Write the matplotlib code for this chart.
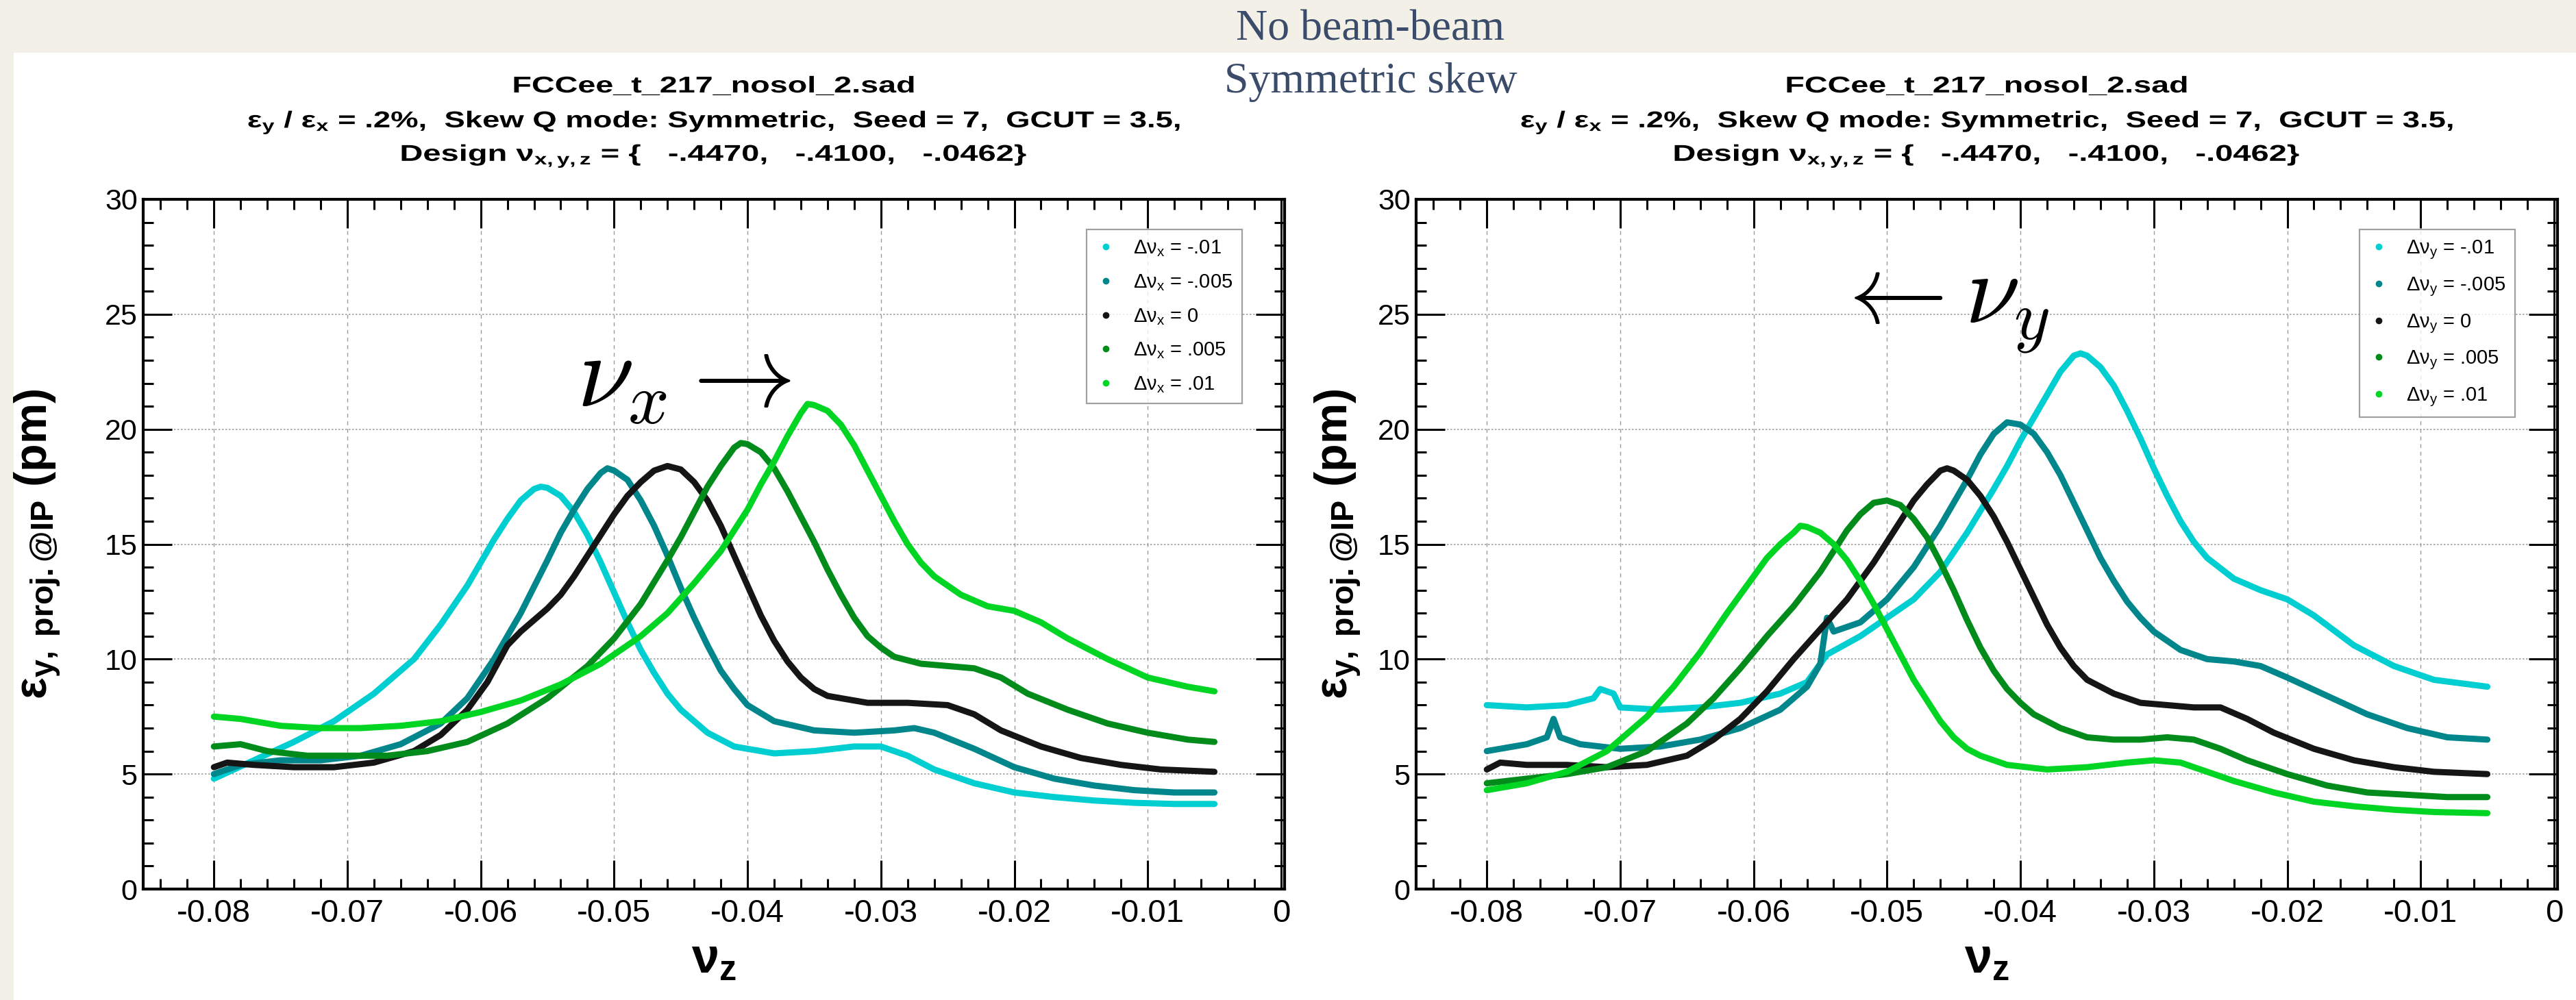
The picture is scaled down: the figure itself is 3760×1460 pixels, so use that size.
import matplotlib
matplotlib.use("Agg")
import matplotlib.pyplot as plt
from matplotlib.lines import Line2D
from matplotlib.patches import Rectangle, PathPatch
from matplotlib.textpath import TextPath
from matplotlib.font_manager import FontProperties
from matplotlib.transforms import Affine2D

plt.rcParams['font.family'] = ['Liberation Sans', 'DejaVu Sans']
plt.rcParams['mathtext.fontset'] = 'custom'
plt.rcParams['mathtext.rm'] = 'Liberation Sans'
plt.rcParams['mathtext.it'] = 'Liberation Sans'
plt.rcParams['mathtext.bf'] = 'Liberation Sans:bold'

# ---- data ----
xticks = [-0.08, -0.07, -0.06, -0.05, -0.04, -0.03, -0.02, -0.01, 0.0]
xtick_labels = ['-0.08', '-0.07', '-0.06', '-0.05', '-0.04', '-0.03', '-0.02', '-0.01', '0']
yticks = [0, 5, 10, 15, 20, 25, 30]

colors = ['#00CED1', '#00868B', '#151515', '#008B1A', '#00D523']
shifts = ['-.01', '-.005', '0', '.005', '.01']

# left panel: scan of nu_x
cyanL_x = [-0.080, -0.077, -0.074, -0.071, -0.068, -0.065, -0.063, -0.061, -0.059, -0.058, -0.057, -0.056,
           -0.0555, -0.055, -0.054, -0.053, -0.052, -0.051, -0.050, -0.049, -0.048, -0.047, -0.046, -0.045,
           -0.043, -0.041, -0.038, -0.035, -0.032, -0.030, -0.028, -0.026, -0.023, -0.020, -0.017, -0.014,
           -0.011, -0.008, -0.005]
cyanL_y = [4.8, 5.6, 6.4, 7.3, 8.5, 10.0, 11.5, 13.2, 15.2, 16.1, 16.9, 17.4, 17.5, 17.45, 17.1, 16.4,
           15.4, 14.2, 12.9, 11.6, 10.4, 9.4, 8.5, 7.8, 6.8, 6.2, 5.9, 6.0, 6.2, 6.2, 5.8, 5.2, 4.6, 4.2,
           4.0, 3.85, 3.75, 3.7, 3.7]
tealL_x = [-0.080, -0.078, -0.075, -0.072, -0.069, -0.066, -0.063, -0.061, -0.059, -0.057, -0.055, -0.054,
           -0.053, -0.052, -0.051, -0.0505, -0.050, -0.049, -0.048, -0.047, -0.046, -0.045, -0.044, -0.043,
           -0.042, -0.041, -0.040, -0.038, -0.035, -0.032, -0.029, -0.0275, -0.026, -0.023, -0.020, -0.017,
           -0.014, -0.011, -0.008, -0.005]
tealL_y = [5.0, 5.4, 5.6, 5.6, 5.8, 6.3, 7.2, 8.3, 10.0, 12.0, 14.3, 15.5, 16.5, 17.4, 18.1, 18.3, 18.2,
           17.8, 16.9, 15.8, 14.5, 13.1, 11.8, 10.6, 9.5, 8.7, 8.0, 7.3, 6.9, 6.8, 6.9, 7.0, 6.8, 6.1, 5.3,
           4.8, 4.5, 4.3, 4.2, 4.2]
blackL_x = [-0.080, -0.079, -0.077, -0.074, -0.071, -0.068, -0.065, -0.063, -0.061, -0.0595, -0.058,
            -0.057, -0.056, -0.055, -0.054, -0.053, -0.052, -0.051, -0.050, -0.049, -0.048, -0.047, -0.046,
            -0.045, -0.044, -0.043, -0.042, -0.041, -0.040, -0.039, -0.038, -0.037, -0.036, -0.035, -0.034,
            -0.031, -0.028, -0.025, -0.023, -0.021, -0.018, -0.015, -0.012, -0.009, -0.005]
blackL_y = [5.3, 5.5, 5.4, 5.3, 5.3, 5.5, 6.0, 6.7, 7.8, 9.0, 10.6, 11.2, 11.7, 12.2, 12.8, 13.6, 14.5,
            15.4, 16.3, 17.1, 17.7, 18.2, 18.4, 18.25, 17.7, 16.9, 15.8, 14.5, 13.2, 11.9, 10.8, 9.9, 9.2,
            8.7, 8.4, 8.1, 8.1, 8.0, 7.6, 6.9, 6.2, 5.7, 5.4, 5.2, 5.1]
dgreenL_x = [-0.080, -0.078, -0.076, -0.073, -0.070, -0.067, -0.064, -0.061, -0.058, -0.055, -0.052,
             -0.050, -0.048, -0.046, -0.045, -0.044, -0.043, -0.042, -0.041, -0.0405, -0.040, -0.039,
             -0.038, -0.037, -0.036, -0.035, -0.034, -0.033, -0.032, -0.031, -0.030, -0.029, -0.027,
             -0.025, -0.023, -0.021, -0.019, -0.016, -0.013, -0.010, -0.007, -0.005]
dgreenL_y = [6.2, 6.3, 6.0, 5.8, 5.8, 5.8, 6.0, 6.4, 7.2, 8.3, 9.7, 10.9, 12.4, 14.3, 15.3, 16.4, 17.5,
             18.4, 19.2, 19.4, 19.35, 19.0, 18.3, 17.3, 16.2, 15.1, 13.9, 12.8, 11.8, 11.0, 10.5, 10.1,
             9.8, 9.7, 9.6, 9.2, 8.5, 7.8, 7.2, 6.8, 6.5, 6.4]
bgreenL_x = [-0.080, -0.078, -0.075, -0.072, -0.069, -0.066, -0.063, -0.060, -0.057, -0.054, -0.051,
             -0.048, -0.046, -0.044, -0.042, -0.041, -0.040, -0.039, -0.038, -0.037, -0.036, -0.0355,
             -0.035, -0.034, -0.033, -0.032, -0.031, -0.030, -0.029, -0.028, -0.027, -0.026, -0.024,
             -0.022, -0.020, -0.018, -0.016, -0.013, -0.010, -0.007, -0.005]
bgreenL_y = [7.5, 7.4, 7.1, 7.0, 7.0, 7.1, 7.3, 7.7, 8.2, 8.9, 9.8, 11.0, 12.0, 13.3, 14.7, 15.6, 16.5,
             17.6, 18.6, 19.7, 20.7, 21.1, 21.05, 20.8, 20.2, 19.3, 18.2, 17.1, 16.0, 15.0, 14.2, 13.6,
             12.8, 12.3, 12.1, 11.6, 10.9, 10.0, 9.2, 8.8, 8.6]

# right panel: scan of nu_y
cyanR_x = [-0.080, -0.077, -0.074, -0.072, -0.0715, -0.0705, -0.070, -0.067, -0.064, -0.061, -0.058,
           -0.056, -0.0545, -0.052, -0.050, -0.048, -0.046, -0.044, -0.042, -0.041, -0.040, -0.039, -0.038,
           -0.037, -0.036, -0.0355, -0.035, -0.034, -0.033, -0.032, -0.031, -0.030, -0.029, -0.028, -0.027,
           -0.026, -0.024, -0.022, -0.020, -0.018, -0.015, -0.012, -0.009, -0.005]
cyanR_y = [8.0, 7.9, 8.0, 8.3, 8.7, 8.5, 7.9, 7.8, 7.9, 8.1, 8.5, 9.0, 10.2, 11.0, 11.8, 12.6, 13.8, 15.5,
           17.4, 18.4, 19.5, 20.5, 21.5, 22.5, 23.2, 23.3, 23.2, 22.7, 21.9, 20.8, 19.6, 18.3, 17.1, 16.0,
           15.1, 14.4, 13.5, 13.0, 12.6, 11.9, 10.6, 9.7, 9.1, 8.8]
tealR_x = [-0.080, -0.077, -0.0755, -0.075, -0.0745, -0.073, -0.070, -0.067, -0.064, -0.061, -0.058,
           -0.056, -0.055, -0.0545, -0.054, -0.052, -0.050, -0.048, -0.046, -0.045, -0.044, -0.043, -0.042,
           -0.041, -0.040, -0.039, -0.038, -0.037, -0.036, -0.035, -0.034, -0.033, -0.032, -0.031, -0.030,
           -0.028, -0.026, -0.024, -0.022, -0.020, -0.017, -0.014, -0.011, -0.008, -0.005]
tealR_y = [6.0, 6.3, 6.6, 7.4, 6.6, 6.3, 6.1, 6.2, 6.5, 7.0, 7.8, 8.8, 9.8, 11.8, 11.2, 11.6, 12.6, 14.0,
           15.8, 16.8, 17.8, 18.9, 19.8, 20.3, 20.2, 19.8, 19.0, 18.0, 16.8, 15.6, 14.4, 13.4, 12.5, 11.8,
           11.2, 10.4, 10.0, 9.9, 9.7, 9.2, 8.4, 7.6, 7.0, 6.6, 6.5]
blackR_x = [-0.080, -0.079, -0.077, -0.074, -0.071, -0.068, -0.065, -0.063, -0.061, -0.059, -0.057,
            -0.055, -0.053, -0.051, -0.050, -0.049, -0.048, -0.047, -0.046, -0.0455, -0.045, -0.044,
            -0.043, -0.042, -0.041, -0.040, -0.039, -0.038, -0.037, -0.036, -0.035, -0.033, -0.031,
            -0.029, -0.027, -0.025, -0.023, -0.021, -0.018, -0.015, -0.012, -0.009, -0.005]
blackR_y = [5.2, 5.5, 5.4, 5.4, 5.3, 5.4, 5.8, 6.5, 7.4, 8.6, 10.0, 11.3, 12.6, 14.2, 15.1, 16.0, 16.9,
            17.6, 18.2, 18.3, 18.2, 17.8, 17.1, 16.2, 15.1, 13.9, 12.7, 11.5, 10.5, 9.7, 9.1, 8.5, 8.1,
            8.0, 7.9, 7.9, 7.4, 6.8, 6.1, 5.6, 5.3, 5.1, 5.0]
dgreenR_x = [-0.080, -0.077, -0.074, -0.071, -0.068, -0.065, -0.063, -0.061, -0.059, -0.057, -0.055,
             -0.054, -0.053, -0.052, -0.051, -0.050, -0.049, -0.048, -0.047, -0.046, -0.045, -0.044,
             -0.043, -0.042, -0.041, -0.040, -0.039, -0.037, -0.035, -0.033, -0.031, -0.029, -0.027,
             -0.025, -0.023, -0.020, -0.017, -0.014, -0.011, -0.008, -0.005]
dgreenR_y = [4.6, 4.8, 5.0, 5.3, 6.0, 7.2, 8.3, 9.6, 11.0, 12.3, 13.8, 14.7, 15.6, 16.3, 16.8, 16.9, 16.7,
             16.1, 15.3, 14.2, 13.0, 11.7, 10.5, 9.5, 8.7, 8.1, 7.6, 7.0, 6.6, 6.5, 6.5, 6.6, 6.5, 6.1,
             5.6, 5.0, 4.5, 4.2, 4.1, 4.0, 4.0]
bgreenR_x = [-0.080, -0.077, -0.074, -0.071, -0.068, -0.066, -0.064, -0.062, -0.061, -0.060, -0.059,
             -0.058, -0.057, -0.0565, -0.056, -0.055, -0.054, -0.053, -0.052, -0.051, -0.050, -0.049,
             -0.048, -0.047, -0.046, -0.045, -0.044, -0.043, -0.041, -0.038, -0.035, -0.032, -0.030,
             -0.028, -0.026, -0.024, -0.021, -0.018, -0.015, -0.012, -0.009, -0.005]
bgreenR_y = [4.3, 4.6, 5.1, 6.0, 7.5, 8.8, 10.3, 12.0, 12.8, 13.6, 14.4, 15.0, 15.5, 15.8, 15.75, 15.5,
             15.0, 14.3, 13.4, 12.4, 11.3, 10.2, 9.1, 8.2, 7.3, 6.6, 6.1, 5.8, 5.4, 5.2, 5.3, 5.5, 5.6,
             5.5, 5.1, 4.7, 4.2, 3.8, 3.6, 3.45, 3.35, 3.3]

left_curves = [(cyanL_x, cyanL_y), (tealL_x, tealL_y), (blackL_x, blackL_y),
               (dgreenL_x, dgreenL_y), (bgreenL_x, bgreenL_y)]
right_curves = [(cyanR_x, cyanR_y), (tealR_x, tealR_y), (blackR_x, blackR_y),
                (dgreenR_x, dgreenR_y), (bgreenR_x, bgreenR_y)]

title_lines = [r'FCCee_t_217_nosol_2.sad',
               r'$\mathbf{\varepsilon_y}$ / $\mathbf{\varepsilon_x}$ = .2%,  Skew Q mode: Symmetric,  Seed = 7,  GCUT = 3.5,',
               r'Design $\mathbf{\nu_{x,y,z}}$ = {   -.4470,   -.4100,   -.0462}']
# the slide stretches the titles sideways: target widths in pixels, baselines from the top
title_widths = [583, 1359, 911]
title_baselines = [135, 186, 235]

W, H = 3760, 1460
fig = plt.figure(figsize=(W / 100, H / 100), dpi=100)
fig.patch.set_facecolor('#F3F0E8')
fig.patches.append(Rectangle((20 / W, 0), 1, 1 - 77 / H, transform=fig.transFigure,
                             facecolor='white', edgecolor='none', zorder=-10))

fig.text(0.532, 0.960, 'No beam-beam', family='Liberation Serif', fontsize=46,
         color='#3B4C6B', ha='center', va='baseline')
fig.text(0.532, 0.9075, 'Symmetric skew', family='Liberation Serif', fontsize=46,
         color='#3B4C6B', ha='center', va='baseline')

ax_l = fig.add_axes([209 / W, 162 / H, 1666 / W, 1007 / H])
ax_r = fig.add_axes([2067 / W, 162 / H, 1666 / W, 1007 / H])

title_font = FontProperties(family='Liberation Sans', weight='bold')


def stretched_title(cx, s, width, baseline, size=24):
    tp = TextPath((0, 0), s, size=size, prop=title_font)
    bb = tp.get_extents()
    k = fig.dpi / 72
    sx = width / (bb.width * k)
    tr = Affine2D().translate(-(bb.x0 + bb.width / 2), 0).scale(k * sx, k).translate(cx, H - baseline)
    fig.add_artist(PathPatch(tp, transform=tr, facecolor='black', edgecolor='none', lw=0))


def style_axes(ax, curves, var, ylab_x, cx):
    for (xs, ys), c in zip(curves, colors):
        ax.plot(xs, ys, color=c, lw=6.5, solid_capstyle='round', solid_joinstyle='round', zorder=3)
    ax.set_xlim(-0.0853, 0.00026)
    ax.set_ylim(0, 30)
    ax.set_xticks(xticks)
    ax.set_xticklabels(xtick_labels)
    ax.set_yticks(yticks)
    ax.set_xticks([v / 1000 for v in range(-84, 1, 2)], minor=True)
    ax.set_yticks(list(range(0, 31)), minor=True)
    ax.tick_params(which='major', direction='in', length=30, width=2.2, top=True, right=True,
                   labelsize=31, pad=6)
    ax.tick_params(axis='x', which='major', labelsize=34, pad=10)
    ax.tick_params(which='minor', direction='in', length=11, width=2.2, top=True, right=True)
    for s in ax.spines.values():
        s.set_linewidth(3)
    ax.axvline(0, color='black', lw=2, zorder=2)
    ax.xaxis.grid(True, ls=(0, (4, 4)), color='#9a9a9a', lw=1.0)
    ax.yaxis.grid(True, ls=(0, (1.5, 1.5)), color='#a0a0a0', lw=1.2)
    ax.set_axisbelow(True)

    ax.set_xlabel(r'$\mathbf{\nu_z}$', fontsize=52)
    ax.xaxis.set_label_coords(0.5, -0.07)
    ax.set_ylabel(r'$\mathbf{\varepsilon_{y,\ proj.@IP}}$ (pm)', fontsize=48, fontweight='bold')
    ax.yaxis.set_label_coords(ylab_x, 0.5)

    for ln, w, b in zip(title_lines, title_widths, title_baselines):
        stretched_title(cx, ln, w, b)

    handles = [Line2D([], [], ls='none', marker='o', ms=6, color=c) for c in colors]
    labels = [r'$\Delta\nu_%s$ = %s' % (var, s) for s in shifts]
    leg = ax.legend(handles, labels, loc='upper right', bbox_to_anchor=(0.9628, 0.9563),
                    fontsize=21, frameon=True, fancybox=False, edgecolor='#8a8a8a',
                    labelspacing=0.72, handletextpad=0.9, handlelength=1.0, borderpad=0.45,
                    borderaxespad=0)
    leg.get_frame().set_linewidth(1.6)
    leg.set_zorder(5)


style_axes(ax_l, left_curves, 'x', -0.071, 1042)
style_axes(ax_r, right_curves, 'y', -0.047, 2900)

ax_l.text(-0.0528, 21.0, r'$\nu_x \rightarrow$', fontsize=108, math_fontfamily='cm',
          ha='left', va='baseline', zorder=4)
ax_r.text(-0.0542, 24.65, r'$\leftarrow \nu_y$', fontsize=104, math_fontfamily='cm',
          ha='left', va='baseline', zorder=4)

fig.savefig('out.png', dpi=100, facecolor=fig.get_facecolor())
